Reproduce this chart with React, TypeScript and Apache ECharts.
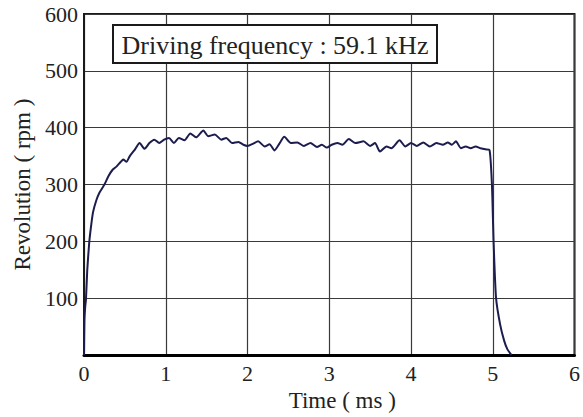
import React, { useEffect, useRef } from "react";
import * as echarts from "echarts";

const timeMs = [0, 0.005, 0.015, 0.024, 0.04, 0.064, 0.085, 0.11, 0.15, 0.19, 0.25, 0.30, 0.35, 0.40, 0.45, 0.48, 0.52, 0.56, 0.62, 0.68, 0.74, 0.80, 0.86, 0.92, 0.98, 1.04, 1.10, 1.16, 1.23, 1.30, 1.37, 1.46, 1.52, 1.60, 1.68, 1.74, 1.81, 1.89, 1.95, 2.0, 2.07, 2.13, 2.21, 2.27, 2.33, 2.39, 2.45, 2.53, 2.61, 2.69, 2.77, 2.85, 2.91, 2.97, 3.03, 3.10, 3.16, 3.24, 3.32, 3.42, 3.50, 3.56, 3.62, 3.70, 3.76, 3.86, 3.93, 4.0, 4.07, 4.15, 4.23, 4.31, 4.39, 4.45, 4.50, 4.55, 4.61, 4.67, 4.73, 4.79, 4.85, 4.91, 4.96, 4.99, 5.01, 5.04, 5.09, 5.14, 5.18, 5.23];
const revolution = [0, 60, 85, 98, 150, 198, 225, 251, 272, 286, 300, 315, 326, 332, 340, 344, 340, 350, 361, 373, 363, 373, 379, 373, 379, 382, 373, 382, 378, 390, 383, 395, 385, 388, 379, 382, 373, 375, 370, 368, 372, 376, 367, 371, 360, 372, 384, 373, 374, 368, 373, 366, 370, 365, 370, 373, 370, 380, 373, 376, 368, 373, 358, 367, 364, 378, 367, 373, 368, 374, 367, 373, 370, 374, 370, 376, 364, 367, 364, 367, 364, 362, 361, 300, 200, 101, 54, 25, 10, 0];

const xTicks = [0, 1, 2, 3, 4, 5, 6];
const yTicks = [0, 100, 200, 300, 400, 500, 600];
const annotation = "Driving frequency : 59.1 kHz";
const xName = "Time ( ms )";
const yName = "Revolution ( rpm )";

const FONT = "Liberation Serif";

export default function App() {
  const ref = useRef<HTMLDivElement>(null);
  useEffect(() => {
    if (!ref.current) return;
    const chart = echarts.init(ref.current, null, { renderer: "svg" });
    const data = timeMs.map((t, i) => [t, revolution[i]]);
    chart.setOption({
      animation: false,
      backgroundColor: "#ffffff",
      textStyle: { fontFamily: FONT },
      grid: {
        left: 84,
        right: 3,
        top: 14,
        bottom: 61,
        show: true,
        borderColor: "#1a1a1a",
        borderWidth: 2,
        backgroundColor: "transparent",
      },
      xAxis: {
        type: "value",
        min: xTicks[0],
        max: xTicks[xTicks.length - 1],
        interval: 1,
        name: xName,
        nameLocation: "middle",
        nameGap: 29,
        nameTextStyle: { fontFamily: FONT, fontSize: 23, color: "#222", padding: [0, 0, 0, 26] },
        axisLine: { show: true, lineStyle: { color: "#000", width: 3 } },
        axisTick: { show: false },
        axisLabel: { fontFamily: FONT, fontSize: 22, color: "#222", margin: 7 },
        splitLine: { show: true, lineStyle: { color: "#3a3a3a", width: 1.2 } },
      },
      yAxis: {
        type: "value",
        min: yTicks[0],
        max: yTicks[yTicks.length - 1],
        interval: 100,
        name: yName,
        nameLocation: "middle",
        nameGap: 45,
        nameTextStyle: { fontFamily: FONT, fontSize: 23, color: "#222" },
        axisLine: { show: true, lineStyle: { color: "#1a1a1a", width: 2 } },
        axisTick: { show: false },
        axisLabel: {
          fontFamily: FONT,
          fontSize: 22,
          color: "#222",
          margin: 6,
          formatter: (v: number) => (v === 0 ? "" : String(v)),
        },
        splitLine: { show: true, lineStyle: { color: "#3a3a3a", width: 1.2 } },
      },
      series: [
        {
          type: "line",
          data,
          showSymbol: false,
          smooth: 0.2,
          lineStyle: { color: "#1c1c4e", width: 2 },
          z: 3,
        },
      ],
      graphic: [
        {
          type: "rect",
          shape: { x: 113, y: 25, width: 324, height: 38 },
          style: { fill: "#fff", stroke: "#1a1a1a", lineWidth: 2 },
          z: 10,
        },
        {
          type: "text",
          x: 275,
          y: 45,
          style: {
            text: annotation,
            fontFamily: FONT,
            fontSize: 26,
            fill: "#222",
            align: "center",
            verticalAlign: "middle",
          },
          z: 11,
        },
      ],
    });
    return () => chart.dispose();
  }, []);
  return <div ref={ref} style={{ width: 583, height: 417, position: "absolute", left: 0, top: 0 }} />;
}
